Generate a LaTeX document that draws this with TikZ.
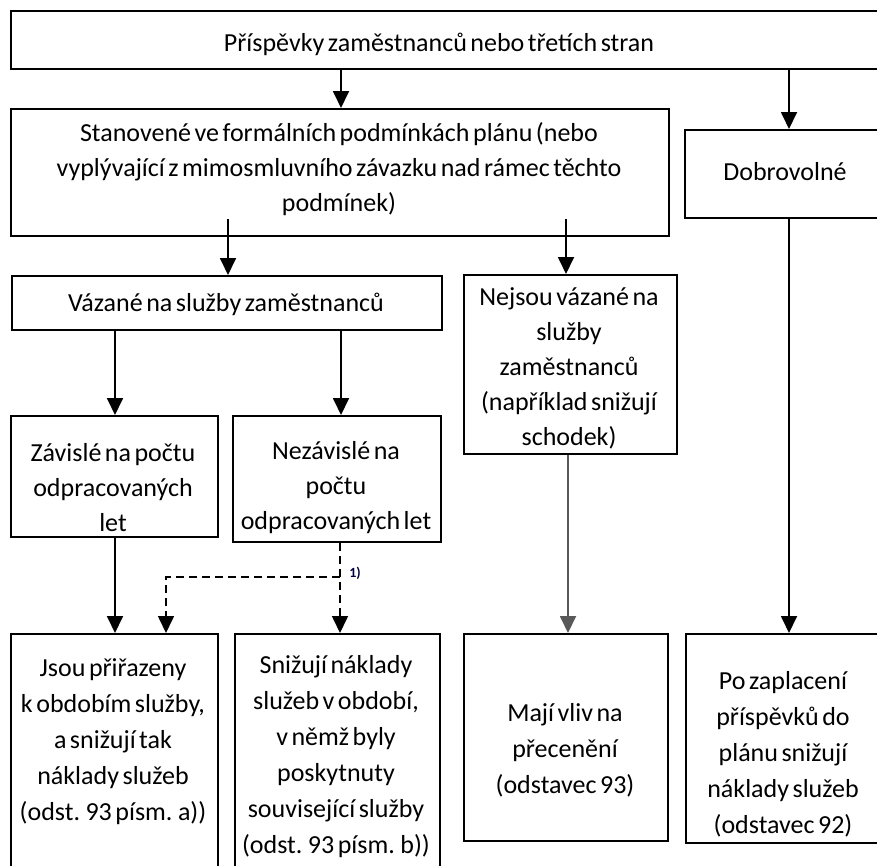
\documentclass[tikz,border=0pt]{standalone}
\usepackage{fontspec}
\setmainfont{Carlito}[WordSpace=0.6]
\usetikzlibrary{arrows.meta}
\tikzset{
  box/.style={draw=black, line width=1.8pt, inner sep=0pt, anchor=north west, fill=none},
  txt/.style={font=\fontsize{26}{35}\selectfont, align=center, inner sep=0pt, text=black},
  txtb/.style={txt, font=\fontsize{26}{36}\selectfont},
  arr/.style={-{Triangle[width=16pt,length=17pt]}, line width=1.8pt},
  garr/.style={arr, draw=black!65},
  darr/.style={-{Triangle[width=16pt,length=17pt]}, line width=1.6pt, dash pattern=on 8pt off 5pt},
  lbl/.style={font=\bfseries\fontsize{14}{15}\selectfont, text=black!75!blue, inner sep=0pt}
}
\begin{document}
\begin{tikzpicture}[x=1pt,y=-1pt]
\useasboundingbox (0,0) rectangle (877,865);
\clip (0,0) rectangle (877,865);
\fill[white] (0,0) rectangle (877,865);

% boxes
\node[box, minimum width=880pt, minimum height=58pt] (top) at (10,10) {};
\node[box, minimum width=658pt, minimum height=127pt] (stan) at (10,108) {};
\node[box, minimum width=206pt, minimum height=88pt] (dobr) at (684,129) {};
\node[box, minimum width=430pt, minimum height=54pt] (vaz) at (11,275) {};
\node[box, minimum width=213pt, minimum height=179pt] (nejs) at (463,274) {};
\node[box, minimum width=207pt, minimum height=121pt] (zav) at (10,415) {};
\node[box, minimum width=208pt, minimum height=126pt] (nezav) at (232,415) {};
\node[box, minimum width=207pt, minimum height=260pt] (jsou) at (10,633) {};
\node[box, minimum width=205pt, minimum height=260pt] (sniz) at (234,633) {};
\node[box, minimum width=204pt, minimum height=207pt] (maji) at (463,633) {};
\node[box, minimum width=205pt, minimum height=209pt] (poz) at (685,633) {};

% texts
\node[txt] (ttop) at (439,44) {Příspěvky zaměstnanců nebo třetích stran};
\node[txt] (tstan) at (339,169) {Stanovené ve formálních podmínkách plánu (nebo\\vyplývající z mimosmluvního závazku nad rámec těchto\\podmínek)};
\node[txt] (tdobr) at (785,172) {Dobrovolné};
\node[txt] (tvaz) at (226,304) {Vázané na služby zaměstnanců};
\node[txt] (tnejs) at (569,368) {Nejsou vázané na\\služby\\zaměstnanců\\(například snižují\\schodek)};
\node[txt] (tzav) at (113,488) {Závislé na počtu\\odpracovaných\\let};
\node[txt] (tnezav) at (336,488) {Nezávislé na\\počtu\\odpracovaných let};
\node[txtb] (tjsou) at (113,742) {Jsou přiřazeny\\k obdobím služby,\\a snižují tak\\náklady služeb\\(odst. 93 písm. a))};
\node[txtb] (tsniz) at (336,757) {Snižují náklady\\služeb v období,\\v němž byly\\poskytnuty\\související služby\\(odst. 93 písm. b))};
\node[txtb] (tmaji) at (565,750) {Mají vliv na\\přecenění\\(odstavec 93)};
\node[txtb] (tpoz) at (783,754) {Po zaplacení\\příspěvků do\\plánu snižují\\náklady služeb\\(odstavec 92)};

% columns
\coordinate (cA) at (341,0);
\coordinate (cB) at (789,0);
\coordinate (cC) at (228,0);
\coordinate (cD) at (566,0);
\coordinate (cE) at (115,0);
\coordinate (cF) at (340,0);
\coordinate (cG) at (166,0);
\coordinate (cH) at (568,0);

% connectors
\draw[arr] (top.south -| cA) -- (stan.north -| cA);
\draw[arr] (top.south -| cB) -- (dobr.north -| cB);
\path (stan.south -| cC) ++(0,-18) coordinate (s1);
\path (stan.south -| cD) ++(0,-18) coordinate (s2);
\draw[arr] (s1) -- (vaz.north -| cC);
\draw[arr] (s2) -- (nejs.north -| cD);
\draw[arr] (vaz.south -| cE) -- (zav.north -| cE);
\draw[arr] (vaz.south -| cA) -- (nezav.north -| cA);
\draw[arr] (zav.south -| cE) -- (jsou.north -| cE);
\draw[darr] (nezav.south -| cF) -- (sniz.north -| cF);
\path (sniz.north -| cF) ++(0,-56) coordinate (br);
\draw[darr] (br) -| (jsou.north -| cG);
\node[lbl] (one) at (355,573) {1)};
\draw[garr] (nejs.south -| cH) -- (maji.north -| cH);
\draw[arr] (dobr.south -| cB) -- (poz.north -| cB);
\end{tikzpicture}
\end{document}
